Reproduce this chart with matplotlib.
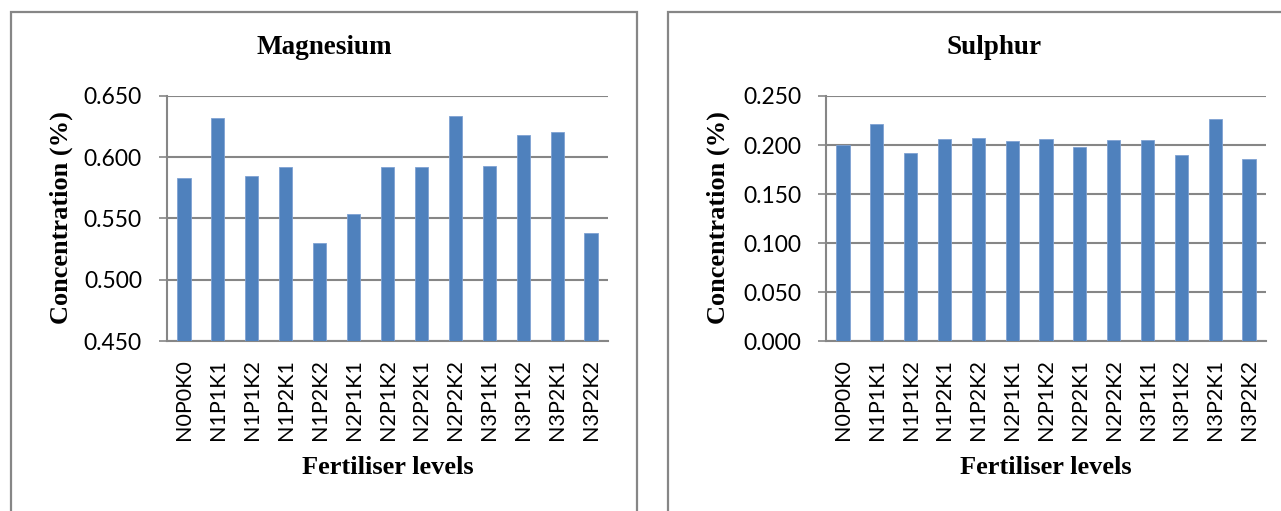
import matplotlib.pyplot as plt
from matplotlib.patches import Rectangle
import numpy as np

# fertiliser treatments
levels = ["N0P0K0", "N1P1K1", "N1P1K2", "N1P2K1", "N1P2K2", "N2P1K1", "N2P1K2",
          "N2P2K1", "N2P2K2", "N3P1K1", "N3P1K2", "N3P2K1", "N3P2K2"]

# concentration (%) per treatment
magnesium = [0.583, 0.632, 0.585, 0.592, 0.530, 0.554, 0.592,
             0.592, 0.634, 0.593, 0.618, 0.621, 0.538]
sulphur = [0.200, 0.221, 0.192, 0.206, 0.207, 0.204, 0.206,
           0.198, 0.205, 0.205, 0.190, 0.227, 0.186]

mg_ticks = [0.450, 0.500, 0.550, 0.600, 0.650]
s_ticks = [0.000, 0.050, 0.100, 0.150, 0.200, 0.250]

W, H = 1281, 511
bar_color = "#4F81BD"
grey = "#868686"
tick_font = "Lato"
serif = "Liberation Serif"

fig = plt.figure(figsize=(W / 100, H / 100), dpi=100)


def px(x0, y0, x1, y1):
    return [x0 / W, 1 - y1 / H, (x1 - x0) / W, (y1 - y0) / H]


def panel(rect, frame, values, ticks, title, ylab_x):
    fx0, fx1 = frame
    fig.patches.append(Rectangle((fx0 / W, -0.1), (fx1 - fx0) / W, 1.1 - 12 / H,
                                 transform=fig.transFigure, fill=False,
                                 edgecolor=grey, linewidth=1.6))
    ax = fig.add_axes(px(*rect))
    x = np.arange(len(levels))
    ax.bar(x, values, width=0.39, color=bar_color, edgecolor="#7FA2D3",
           linewidth=0.6, zorder=3)
    ax.set_xlim(-0.5, len(levels) - 0.5)
    ax.set_ylim(ticks[0], ticks[-1])
    ax.set_yticks(ticks)
    ax.set_yticklabels([f"{t:.3f}" for t in ticks], fontsize=16.5, family=tick_font)
    ax.set_xticks(x)
    ax.set_xticklabels(levels, rotation=90, fontsize=15.5, family=tick_font)
    ax.tick_params(axis="x", length=0, pad=13)
    ax.tick_params(axis="y", length=6, width=1.2, color=grey, pad=12)
    ax.grid(axis="y", color=grey, linewidth=1.5, zorder=0)
    for side in ["top", "right"]:
        ax.spines[side].set_visible(False)
    for side in ["left", "bottom"]:
        ax.spines[side].set_color(grey)
        ax.spines[side].set_linewidth(1.5)
    cx = (fx0 + fx1) / 2 / W
    fig.text(cx, 1 - 48 / H, title, ha="center", va="center", fontsize=19.5,
             fontweight="bold", family=serif)
    ax_cx = (rect[0] + rect[2]) / 2 / W
    fig.text(ax_cx, 1 - 468 / H, "Fertiliser levels", ha="center", va="center",
             fontsize=19, fontweight="bold", family=serif)
    fig.text(ylab_x / W, 1 - 218 / H, "Concentration (%)", ha="center",
             va="center", rotation=90, fontsize=19, fontweight="bold", family=serif)
    return ax


panel((167, 96, 608, 341), (11, 637), magnesium, mg_ticks, "Magnesium", 61)
panel((826, 96, 1266, 341), (668, 1320), sulphur, s_ticks, "Sulphur", 718)

fig.savefig("out.png", dpi=100)
